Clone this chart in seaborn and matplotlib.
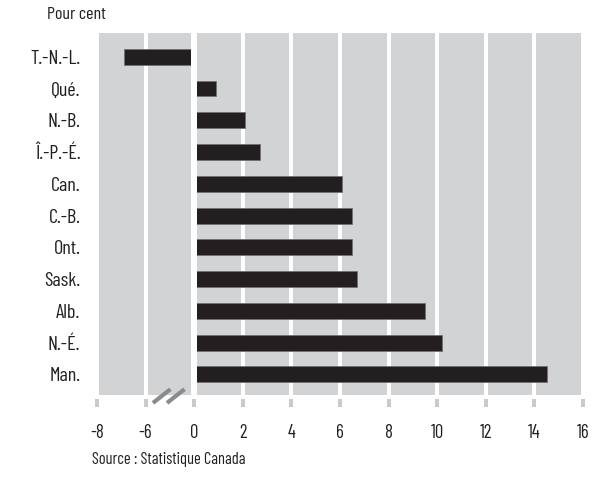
import numpy as np
import matplotlib
matplotlib.use("Agg")
import matplotlib.pyplot as plt
import matplotlib.transforms as mtransforms
import seaborn as sns

# data (per cent)
provinces = ["T.-N.-L.", "Qué.", "N.-B.", "Î.-P.-É.", "Can.", "C.-B.",
             "Ont.", "Sask.", "Alb.", "N.-É.", "Man."]
values = [-6.9, 0.9, 2.1, 2.7, 6.1, 6.5, 6.5, 6.7, 9.5, 10.2, 14.5]
xticks = [-8, -6, 0, 2, 4, 6, 8, 10, 12, 14, 16]

sns.set_theme(style="white")
plt.rcParams['font.family'] = ['Barlow Condensed', 'DejaVu Sans']

panel = "#d1d3d4"
bar_color = "#231f20"
txt = "#231f20"


# broken axis: -6..0 squeezed into one tick step
def fwd(v):
    v = np.asarray(v, dtype=float)
    return np.where(v >= 0, v, np.where(v >= -6, v / 3.0, v + 4))


def inv(c):
    c = np.asarray(c, dtype=float)
    return np.where(c >= 0, c, np.where(c >= -2, c * 3.0, c - 4))


fig = plt.figure(figsize=(5.96, 4.83), dpi=100)
ax = fig.add_axes([0.1628, 0.1822, 0.8154, 0.7495])
ax.set_facecolor(panel)

sns.barplot(x=values, y=provinces, orient="h", color=bar_color,
            width=0.5, saturation=1, edgecolor="#6d6e70", linewidth=0.5, ax=ax)

ax.set_xscale("function", functions=(fwd, inv))
ax.set_xlim(-8, 16)
ax.set_ylim(10.65, -0.75)
ax.set_xticks(xticks)
ax.set_xticklabels([str(t) for t in xticks])

ax.set_axisbelow(True)
ax.grid(axis="x", color="white", linewidth=2.9)
ax.grid(axis="y", visible=False)
ax.axvline(0, color="white", linewidth=4.3, zorder=3)

for s in ["top", "right", "left"]:
    ax.spines[s].set_visible(False)
ax.spines["bottom"].set_color("none")
ax.spines["bottom"].set_position(("outward", 3))

ax.tick_params(axis="x", bottom=True, direction="out", length=6, width=2.9,
               color="#c9cacc", pad=12, labelsize=13.5, labelcolor=txt)
ax.tick_params(axis="y", left=False, length=0, pad=12, labelsize=14.5,
               labelcolor=txt)
ax.set_xlabel("")
ax.set_ylabel("")

# break marks on the axis
trans = mtransforms.blended_transform_factory(ax.transAxes, ax.transAxes)
for x0 in [0.115, 0.144]:
    ax.plot([x0, x0 + 0.036], [-0.022, 0.016], color="#8a8b8d", linewidth=3,
            solid_capstyle="butt", transform=trans, clip_on=False, zorder=5)

fig.text(0.079, 0.969, "Pour cent", fontsize=13, ha="left", va="center",
         color=txt)
fig.text(0.154, 0.048, "Source : Statistique Canada", fontsize=11.8,
         ha="left", va="center", color=txt)

fig.savefig("out.png", dpi=100)
